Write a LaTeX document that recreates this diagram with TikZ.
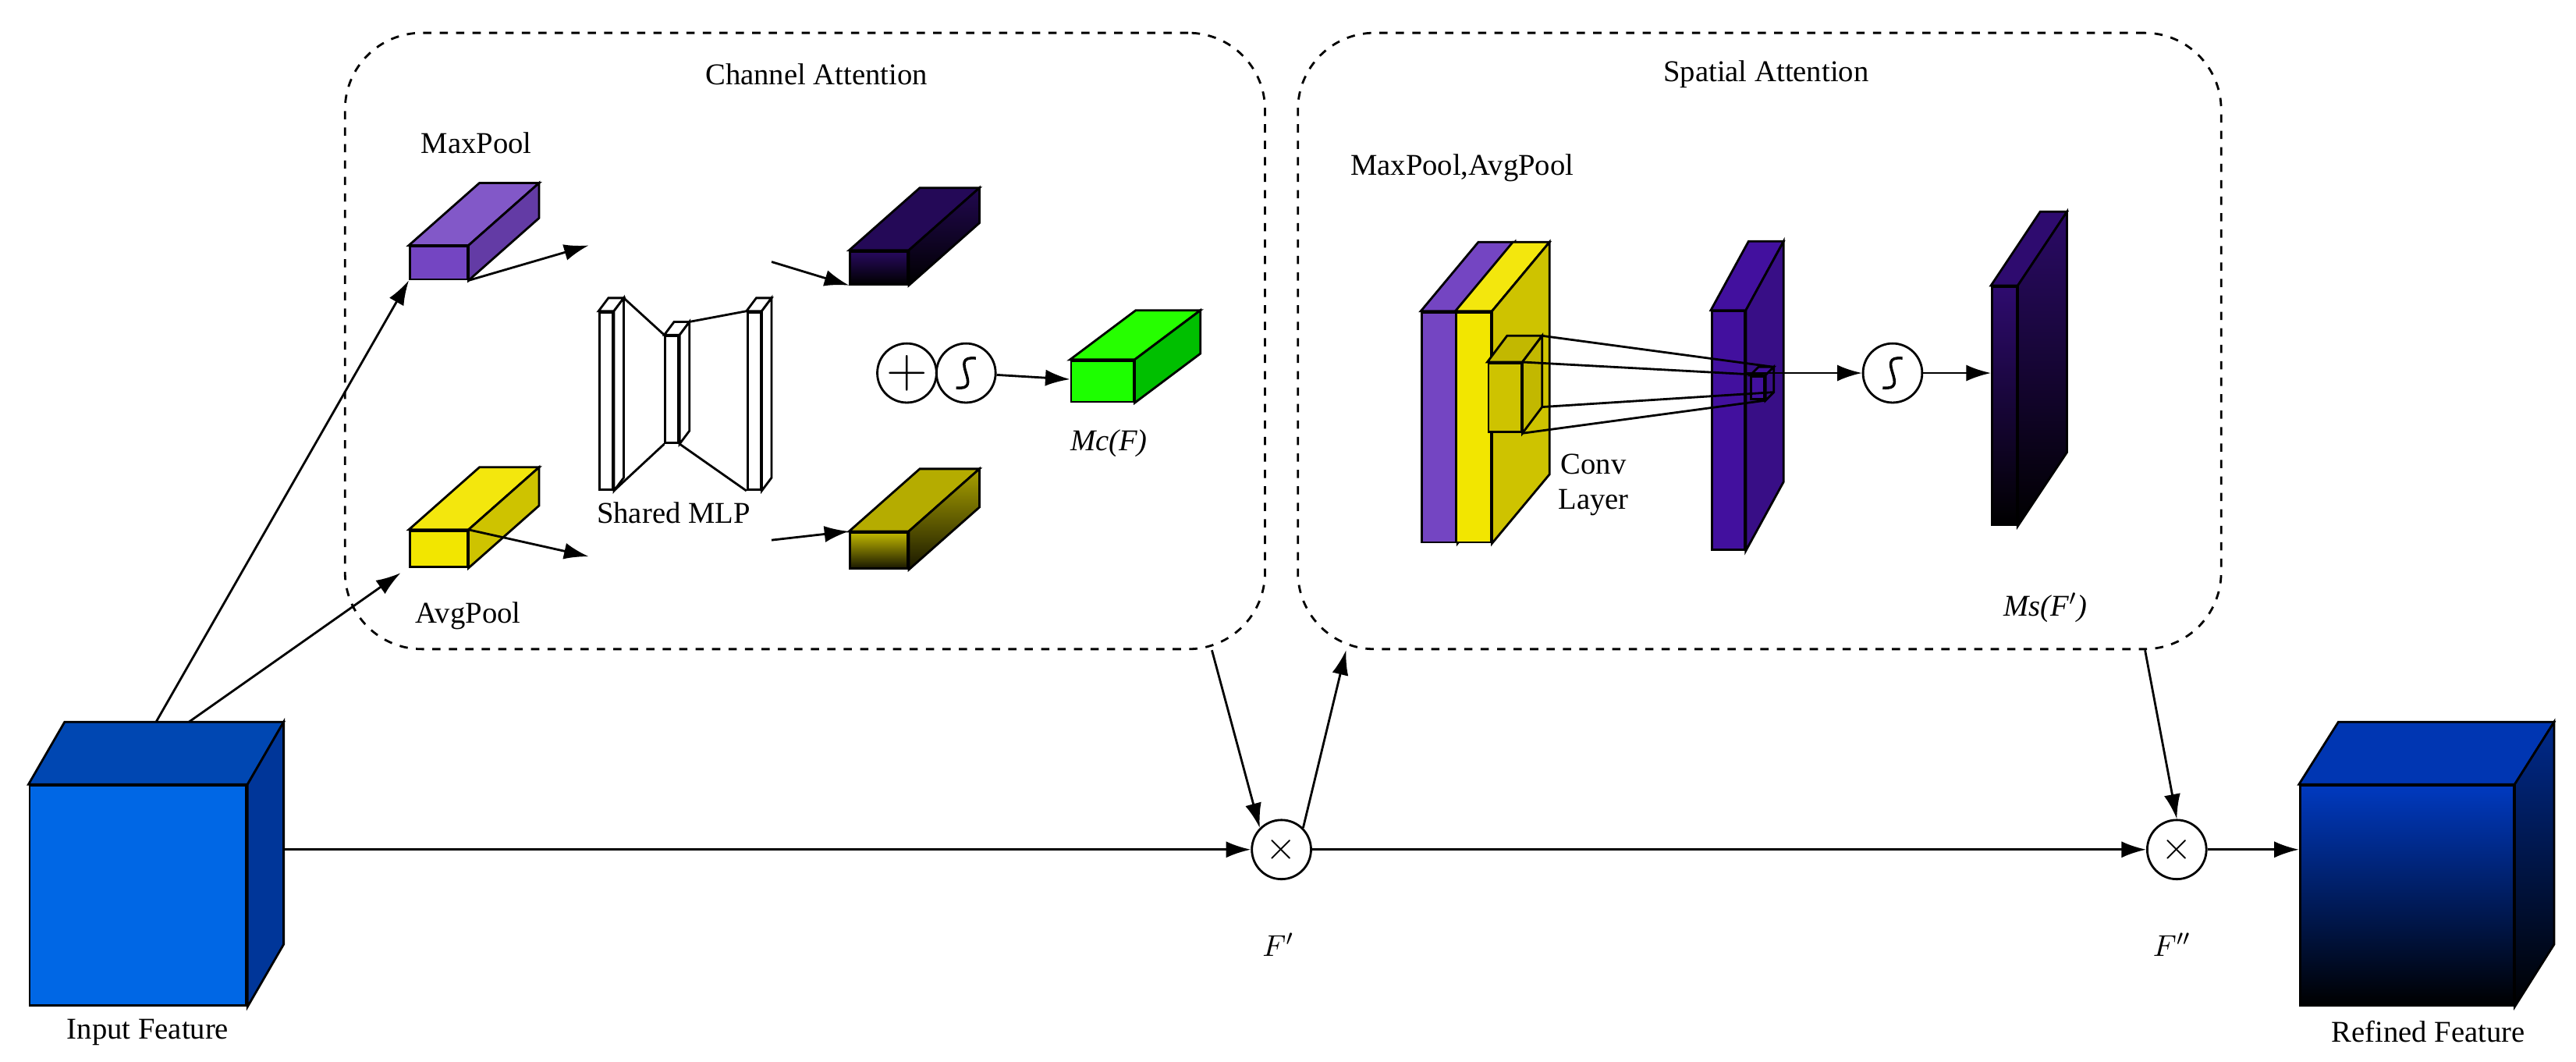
\documentclass[tikz,border=0pt]{standalone}
\usepackage{fontspec}
\setmainfont{Liberation Serif}
\usetikzlibrary{arrows.meta}
\newcommand{\pu}{0.02106cm}
% name, centre, w, h, dx, dy, front, top, side
\newcommand{\prism}[9]{%
  \node [face, #7, minimum width={#3*\pu}, minimum height={#4*\pu}] (#1) at (#2) {};
  \draw [face, #8] (#1.north west) -- ++(#5,-#6) -- ([shift={(#5,-#6)}]#1.north east) -- (#1.north east) -- cycle;
  \draw [face, #9] (#1.north east) -- ++(#5,-#6) -- ([shift={(#5,-#6)}]#1.south east) -- (#1.south east) -- cycle;
}
\definecolor{vio}{HTML}{7445C2}
\definecolor{yel}{HTML}{F2E600}
\definecolor{indi}{HTML}{42109E}
\tikzset{
  face/.style  = {draw, line width=0.8pt, inner sep=0pt, shape=rectangle},
  panel/.style = {draw, dashed, rounded corners=28pt, line width=0.8pt, inner sep=0pt},
  op/.style    = {draw, circle, line width=0.8pt, minimum size={36*\pu}, inner sep=0pt},
  sig/.style   = {op, path picture={\draw [line width=1pt]
      ([shift={(6,-9)}]path picture bounding box.center)
      .. controls ([shift={(-12,-11)}]path picture bounding box.center)
      and ([shift={(12,11)}]path picture bounding box.center)
      .. ([shift={(-6,9)}]path picture bounding box.center);}},
  link/.style  = {-{Latex[length=9pt,width=6pt]}, line width=0.8pt},
  lbl/.style   = {font=\fontsize{11}{13}\selectfont}
}
\begin{document}
\begin{tikzpicture}[x=0.02106cm, y=-0.02106cm]
  \useasboundingbox (0,0) rectangle (1568,646);
  % panels
  \node [panel, minimum width={560*\pu}, minimum height={375*\pu}] (ca) at (490,207.5) {};
  \node [panel, minimum width={562*\pu}, minimum height={375*\pu}] (sa) at (1071,207.5) {};
  \node [lbl] (catitle) at (497,45) {Channel Attention};
  \node [lbl] (satitle) at (1075,45) {Spatial Attention};
  % input and output
  \prism{in}{84,545}{132}{134}{22}{38}{fill=blue!55!cyan!90!black}{fill=blue!60!cyan!70!black}{fill=blue!65!cyan!60!black}
  \prism{rf}{1465,545}{130}{134}{24}{38}{top color=blue!70!cyan!75!black, bottom color=black}{fill=blue!70!cyan!70!black}{top color=blue!70!cyan!55!black, bottom color=black}
  \node [lbl] (inlbl) at (90,628) {Input Feature};
  \node [lbl] (rflbl) at (1478,628) {Refined Feature};
  \node [op, font=\Large\bfseries] (x1) at (780,517) {$\times$};
  \node [op, font=\Large\bfseries] (x2) at (1325,517) {$\times$};
  \node [lbl] (f1) at (778,575) {$F'$};
  \node [lbl] (f2) at (1322,575) {$F''$};
  % channel attention
  \prism{mp}{267,160}{35}{20}{43}{38}{fill=vio}{fill=vio!90!white}{fill=vio!85!black}
  \prism{ap}{267,334}{35}{22}{43}{38}{fill=yel}{fill=yel!95!white}{fill=yel!85!black}
  \node [lbl] (mplbl) at (290,87) {MaxPool};
  \node [lbl] (aplbl) at (285,375) {AvgPool};
  \prism{m1}{369,244}{8}{108}{6}{8}{fill=white}{fill=white}{fill=white}
  \prism{m2}{409,237}{8}{65}{6}{8}{fill=white}{fill=white}{fill=white}
  \prism{m3}{459,244}{8}{108}{6}{8}{fill=white}{fill=white}{fill=white}
  \draw [line width=0.8pt] ([shift={(6,-8)}]m1.north east) -- (m2.north west)
    (m1.south east) -- (m2.south west)
    ([shift={(6,-8)}]m2.north east) -- (m3.north west)
    (m2.south east) -- (m3.south west);
  \node [lbl] (mlplbl) at (410,312) {Shared MLP};
  \prism{mo}{535,163}{35}{20}{43}{38}{top color=indi!60!black, bottom color=black}{fill=indi!55!black}{top color=indi!50!black, bottom color=black}
  \prism{ao}{535,335}{35}{22}{43}{38}{top color=yel!80!black, bottom color=black!90!yel}{fill=yel!75!black}{top color=yel!70!black, bottom color=black!90!yel}
  \node [op, font=\huge] (plus) at (552,227) {$+$};
  \node [sig] (s1) at (588,227) {};
  \prism{mc}{671,232}{38}{25}{40}{30}{fill=green!85!lime}{fill=green!80!lime}{fill=green!75!black}
  \node [lbl, font=\fontsize{11}{13}\selectfont\itshape] (mclbl) at (675,270) {Mc(F)};
  % spatial attention
  \node [lbl] (splbl) at (890,102) {MaxPool,AvgPool};
  \prism{sp}{876,260}{21}{140}{35}{42}{fill=vio}{fill=vio}{fill=vio!85!black}
  \prism{sy}{897,260}{21}{140}{35}{42}{fill=yel}{fill=yel!95!white}{fill=yel!85!black}
  \prism{sc}{916,242}{20}{42}{12}{16}{fill=yel!85!black}{fill=yel!80!black}{fill=yel!80!black}
  \prism{ms}{1052,262}{20}{145}{23}{42}{fill=indi}{fill=indi}{fill=indi!85!black}
  \prism{tc}{1070,236}{8}{14}{5}{5}{fill=indi}{fill=indi}{fill=indi!85!black}
  \draw [line width=0.8pt] ([shift={(12,-16)}]sc.north east) -- ([shift={(5,-5)}]tc.north east)
    (sc.north east) -- (tc.north east)
    (sc.south east) -- (tc.south east)
    ([shift={(12,-16)}]sc.south east) -- ([shift={(5,-5)}]tc.south east);
  \node [lbl, align=center] (convlbl) at (970,295) {Conv\\Layer};
  \node [sig] (s2) at (1152,227) {};
  \prism{sm}{1220,247}{15}{145}{30}{45}{top color=indi!70!black, bottom color=black}{fill=indi!70!black}{top color=indi!65!black, bottom color=black}
  \node [lbl, font=\fontsize{11}{13}\selectfont\itshape] (mslbl) at (1245,370) {Ms(F$'$)};
  % connectors
  \draw [link] ([shift={(11,-38)}]in.north) -- (mp.south west);
  \draw [link] ([shift={(31,-38)}]in.north) -- ([shift={(-5,3)}]ap.south west);
  \draw [link] (mp.south east) -- ([shift={(-6,-40)}]m1.south west |- m1.north);
  \draw [link] (ap.north east) -- ([shift={(-6,40)}]m1.south west);
  \draw [link] ([shift={(6,-30)}]m3.north east) -- (mo.south west);
  \draw [link] ([shift={(6,30)}]m3.south east) -- (ao.north west);
  \draw [link] (s1) -- (mc);
  \draw [link] (ms.east |- s2) -- (s2);
  \draw [link] (s2) -- (sm.west |- s2);
  \draw [link] ([shift={(22,-28)}]in.east) -- (x1);
  \draw [link] (x1) -- (x2);
  \draw [link] (x2) -- ([shift={(0,-28)}]rf.west);
  \draw [link] ([shift={(-33,0)}]ca.south east) -- (x1.north west);
  \draw [link] (x1.north east) -- ([shift={(30,0)}]sa.south west);
  \draw [link] ([shift={(-47,0)}]sa.south east) -- (x2.north);
\end{tikzpicture}
\end{document}
